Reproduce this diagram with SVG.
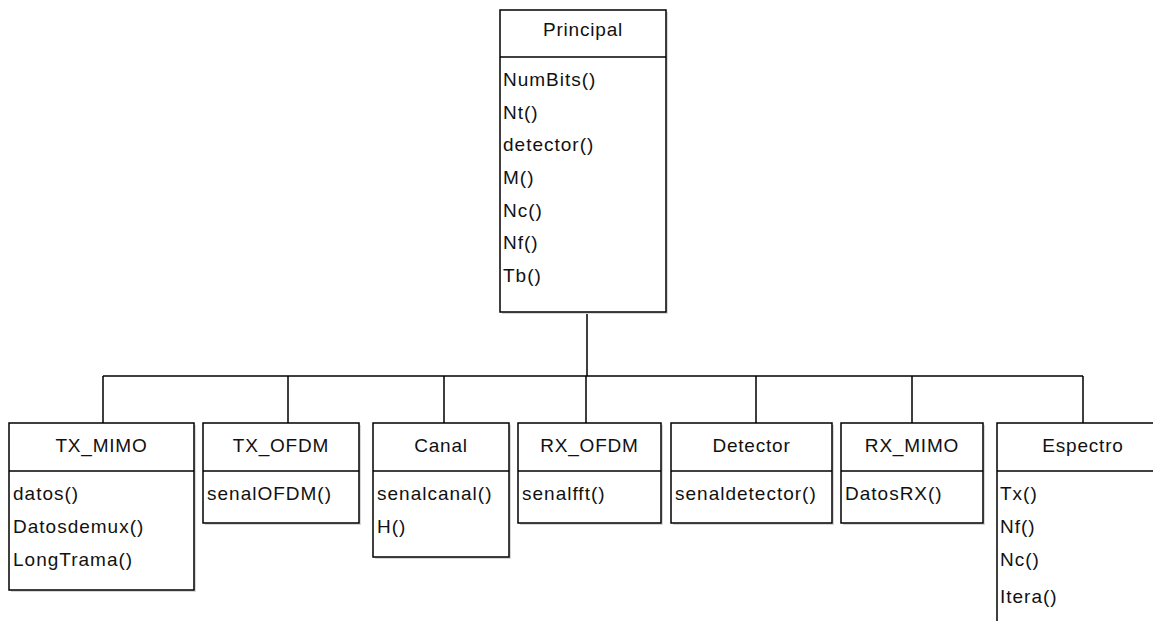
<svg xmlns="http://www.w3.org/2000/svg" width="1153" height="621" viewBox="0 0 1153 621">
<style>
.box{fill:#fff;stroke:#000;stroke-width:1.5}
.sh{fill:#d8d8d8;stroke:none}
.div{stroke:#000;stroke-width:1.5}
.t{font-family:"Liberation Sans",Arial,sans-serif;font-size:19px;fill:#111;letter-spacing:1px}
.c{text-anchor:middle;letter-spacing:0.8px}
.conn{fill:none;stroke:#000;stroke-width:1.5}
</style>
<rect width="1153" height="621" fill="#fff"/>
<g id="connectors">
<path class="conn" d="M587 312V376M103 376H1083M103 376V423M288 376V423M444 376V423M586 376V423M756 376V423M912 376V423M1083 376V423"/>
</g>
<g id="Principal">
<rect class="sh" x="502" y="12" width="166" height="302"/>
<rect class="box" x="500" y="10" width="166" height="302"/>
<line class="div" x1="500" y1="57" x2="666" y2="57"/>
<text class="t c" x="583" y="36">Principal</text>
<text class="t" x="503" y="86">NumBits()</text>
<text class="t" x="503" y="119">Nt()</text>
<text class="t" x="503" y="151">detector()</text>
<text class="t" x="503" y="184">M()</text>
<text class="t" x="503" y="217">Nc()</text>
<text class="t" x="503" y="249">Nf()</text>
<text class="t" x="503" y="282">Tb()</text>
</g>
<g id="TX_MIMO">
<rect class="sh" x="11" y="425" width="185" height="167"/>
<rect class="box" x="9" y="423" width="185" height="167"/>
<line class="div" x1="9" y1="471" x2="194" y2="471"/>
<text class="t c" x="101.5" y="452">TX_MIMO</text>
<text class="t" x="13" y="500">datos()</text>
<text class="t" x="13" y="533">Datosdemux()</text>
<text class="t" x="13" y="566">LongTrama()</text>
</g>
<g id="TX_OFDM">
<rect class="sh" x="205" y="425" width="156" height="100"/>
<rect class="box" x="203" y="423" width="156" height="100"/>
<line class="div" x1="203" y1="471" x2="359" y2="471"/>
<text class="t c" x="281" y="452">TX_OFDM</text>
<text class="t" x="207" y="500">senalOFDM()</text>
</g>
<g id="Canal">
<rect class="sh" x="375" y="425" width="136" height="134"/>
<rect class="box" x="373" y="423" width="136" height="134"/>
<line class="div" x1="373" y1="471" x2="509" y2="471"/>
<text class="t c" x="441" y="452">Canal</text>
<text class="t" x="377" y="500">senalcanal()</text>
<text class="t" x="377" y="533">H()</text>
</g>
<g id="RX_OFDM">
<rect class="sh" x="520" y="425" width="143" height="100"/>
<rect class="box" x="518" y="423" width="143" height="100"/>
<line class="div" x1="518" y1="471" x2="661" y2="471"/>
<text class="t c" x="589.5" y="452">RX_OFDM</text>
<text class="t" x="522" y="500">senalfft()</text>
</g>
<g id="Detector">
<rect class="sh" x="673" y="425" width="161" height="100"/>
<rect class="box" x="671" y="423" width="161" height="100"/>
<line class="div" x1="671" y1="471" x2="832" y2="471"/>
<text class="t c" x="751.5" y="452">Detector</text>
<text class="t" x="675" y="500">senaldetector()</text>
</g>
<g id="RX_MIMO">
<rect class="sh" x="843" y="425" width="142" height="100"/>
<rect class="box" x="841" y="423" width="142" height="100"/>
<line class="div" x1="841" y1="471" x2="983" y2="471"/>
<text class="t c" x="912" y="452">RX_MIMO</text>
<text class="t" x="845" y="500">DatosRX()</text>
</g>
<g id="Espectro">
<rect class="box" x="997" y="423" width="180" height="220"/>
<line class="div" x1="997" y1="471" x2="1177" y2="471"/>
<text class="t c" x="1083" y="452">Espectro</text>
<text class="t" x="1000" y="500">Tx()</text>
<text class="t" x="1000" y="533">Nf()</text>
<text class="t" x="1000" y="566">Nc()</text>
<text class="t" x="1000" y="603">Itera()</text>
</g>
</svg>
